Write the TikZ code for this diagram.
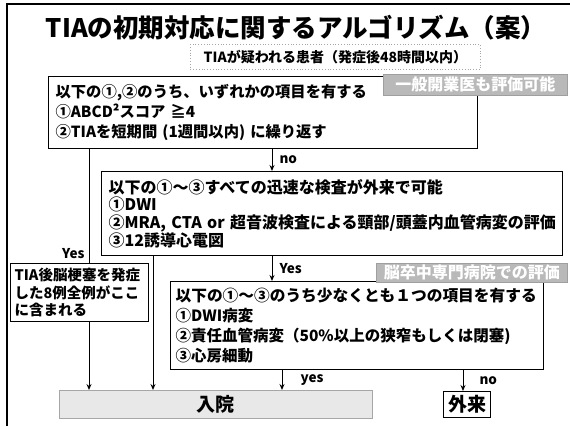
\documentclass[tikz,border=0pt]{standalone}
\usepackage{fontspec}
\setmainfont{Noto Sans CJK JP}
\usetikzlibrary{arrows.meta}
\tikzset{
  box/.style={draw, line width=1.2pt, fill=white, anchor=north west, align=left,
    inner ysep=0pt, font=\bfseries\fontsize{16}{20}\selectfont},
  glabel/.style={fill=gray!55, draw=gray!75, line width=0.6pt, text=white, anchor=north west,
    inner sep=0pt, font=\bfseries\fontsize{16}{16}\selectfont},
  arr/.style={-{Stealth[length=6pt,width=5pt]}, line width=1pt},
  plain/.style={line width=1pt},
  lbl/.style={font=\bfseries\fontsize{13.5}{14}\selectfont, inner sep=1pt},
  endbox/.style={anchor=north west, inner sep=0pt, font=\bfseries\fontsize{19}{19}\selectfont},
}
\begin{document}
\begin{tikzpicture}[x=1pt,y=-1pt]
\useasboundingbox (0,0) rectangle (570,426);
% slide frame
\draw[line width=1.5pt] (7,426) -- (7,4) -- (570,4);

\node[font=\bfseries\fontsize{25.5}{26}\selectfont] (title) at (296,28) {TIAの初期対応に関するアルゴリズム（案）};

\node[draw=gray!70, dotted, line width=0.8pt, anchor=north west, minimum width=290, minimum height=25,
  inner sep=0pt, font=\bfseries\fontsize{14}{14}\selectfont] (sub) at (190,44) {TIAが疑われる患者（発症後48時間以内）};

\node[box, inner xsep=7pt, text width=415, minimum height=72, font=\bfseries\fontsize{15.3}{20}\selectfont] (b1) at (48,76)
  {以下の①,②のうち、いずれかの項目を有する\\①ABCD²スコア ≧4\\②TIAを短期間 (1週間以内) に繰り返す};
\node[glabel, minimum width=184, minimum height=21] (g1) at (383,74) {一般開業医も評価可能};

\node[box, inner xsep=7pt, text width=447, minimum height=84, font=\bfseries\fontsize{16}{17.7}\selectfont] (b2) at (101,171)
  {以下の①～③すべての迅速な検査が外来で可能\\①DWI\\②MRA, CTA or 超音波検査による頸部/頭蓋内血管病変の評価\\③12誘導心電図};

\node[box, inner xsep=4pt, text width=130, minimum height=58, font=\bfseries\fontsize{14.5}{17.5}\selectfont] (tia) at (10,263)
  {TIA後脳梗塞を発症\\した8例全例がここ\\に含まれる};

\node[box, inner xsep=5pt, text width=363, minimum height=88, font=\bfseries\fontsize{15.5}{20}\selectfont] (b3) at (170,281)
  {{\fontsize{15.7}{20}\selectfont 以下の①～③のうち少なくとも１つの項目を有する}\\①DWI病変\\②責任血管病変（50\%以上の狭窄もしくは閉塞)\\③心房細動};
\node[glabel, minimum width=191, minimum height=19] (g2) at (376,263) {脳卒中専門病院での評価};

\node[endbox, draw=gray!70, line width=0.8pt, fill=gray!18, minimum width=313, minimum height=28] (nyuin) at (59,390) {入院};
\node[endbox, draw, line width=1.2pt, fill=white, minimum width=47, minimum height=26] (gairai) at (443,391) {外来};

% connector x positions
\coordinate (xno) at (272,0);
\coordinate (xyes) at (89,0);
\coordinate (xb2) at (153,0);
\coordinate (xb3y) at (282,0);
\coordinate (xb3n) at (463,0);

\draw[arr] (b1.south -| xno) -- node[lbl, anchor=west, xshift=6pt] {no} (b2.north -| xno);
\draw[plain] (b1.south -| xyes) -- node[lbl, pos=0.92, anchor=east, xshift=-3pt] {Yes} (tia.north -| xyes);
\draw[arr] (tia.south -| xyes) -- (nyuin.north -| xyes);
\draw[arr] (b2.south -| xb2) -- (nyuin.north -| xb2);
\draw[arr] (b2.south -| xno) -- node[lbl, anchor=west, xshift=6pt] {Yes} (b3.north -| xno);
\draw[arr] (b3.south -| xb3y) -- node[lbl, anchor=west, xshift=17pt] {yes} (nyuin.north -| xb3y);
\draw[arr] (b3.south -| xb3n) -- node[lbl, anchor=west, xshift=15pt] {no} (gairai.north -| xb3n);
\end{tikzpicture}
\end{document}
